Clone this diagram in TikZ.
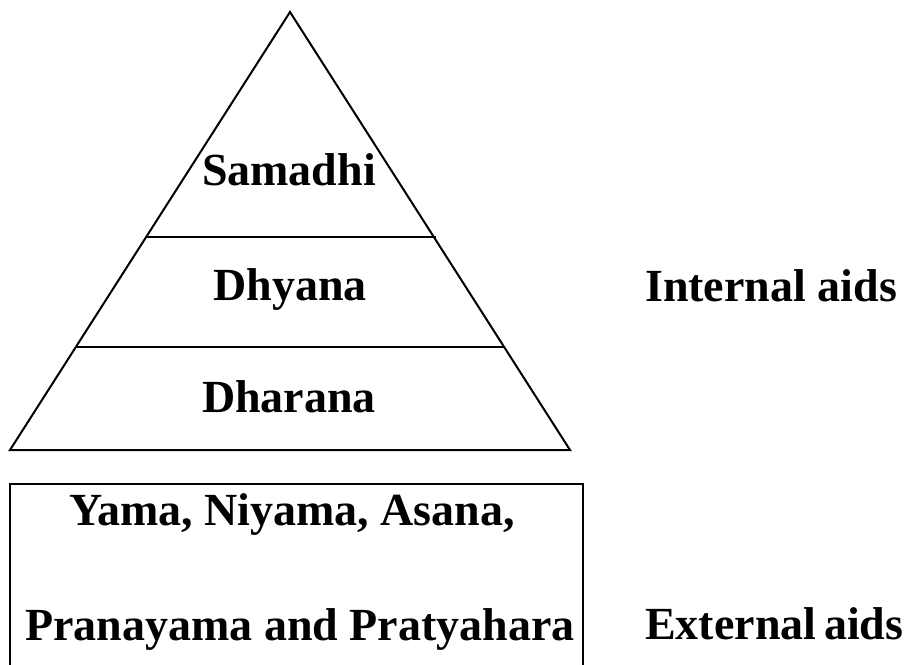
\documentclass[tikz,border=0pt]{standalone}
\usepackage{fontspec}
\setmainfont{Liberation Serif}
\usetikzlibrary{positioning}

\tikzset{
  lbl/.style={font=\bfseries\fontsize{46}{50}\selectfont, inner sep=0pt},
  edge/.style={line width=2pt, line join=miter}
}

\begin{document}
\begin{tikzpicture}[x=1pt, y=-1pt]

\useasboundingbox (0,0) rectangle (909,664);

%\draw [->] (0,0) -- (10,10);

\coordinate (apex) at (290,12);
\coordinate (bl) at (10,450);
\coordinate (br) at (570,450);

\draw [edge] (apex) -- (br) -- (bl) -- cycle;
\draw [edge] (147,237) -- (436,237);
\draw [edge] (76,347) -- (504,347);

\draw [edge] (10,666) -- (10,484) -- (583,484) -- (583,666);

\node[lbl, anchor=base] (samadhi) at (289,185) {Samadhi};
\node[lbl, anchor=base] (dhyana) at (290,300) {Dhyana};
\node[lbl, anchor=base] (dharana) at (289,412) {Dharana};
\node[lbl, anchor=base west] (internal) at (645,301) {Internal aids};

\node[lbl, anchor=base] (yamas) at (292,525) {Yama, Niyama, Asana,};
\node[lbl, anchor=base] (pranayama) at (300,640) {Pranayama and Pratyahara};
\node[lbl, anchor=base west] (external) at (645,639) {External\,aids};

\end{tikzpicture}
\end{document}
